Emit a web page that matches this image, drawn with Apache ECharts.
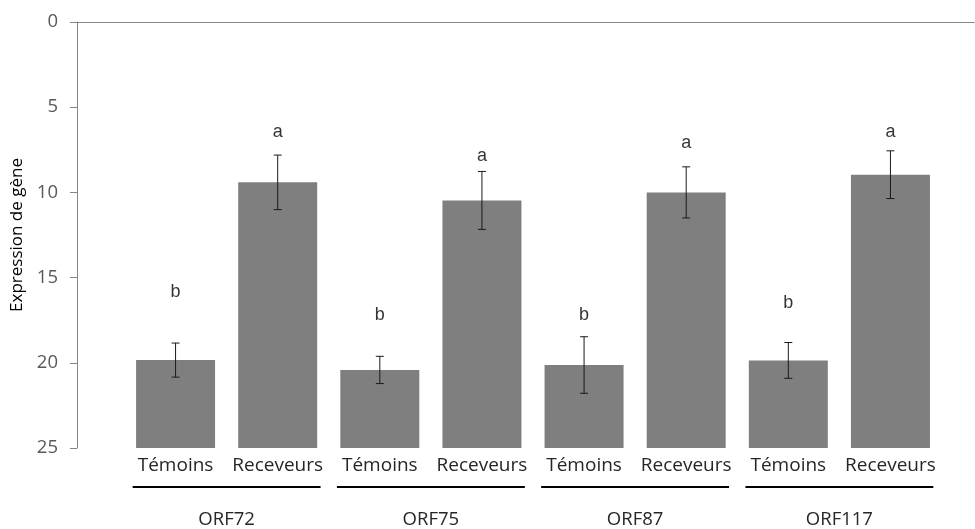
<!DOCTYPE html>
<html>
<head>
<meta charset="utf-8">
<script src="https://cdn.jsdelivr.net/npm/echarts@6/dist/echarts.min.js"></script>
<style>
  html, body { margin: 0; padding: 0; background: #fff; }
  #chart { width: 975px; height: 529px; }
</style>
</head>
<body>
<div id="chart"></div>
<script>
var categories = ['Témoins', 'Receveurs', 'Témoins', 'Receveurs', 'Témoins', 'Receveurs', 'Témoins', 'Receveurs'];
var groups = ['ORF72', 'ORF75', 'ORF87', 'ORF117'];
var values = [19.84, 9.41, 20.42, 10.47, 20.13, 10.0, 19.86, 8.96];
var errors = [1.0, 1.6, 0.8, 1.7, 1.66, 1.5, 1.05, 1.4];
var letters = ['b', 'a', 'b', 'a', 'b', 'a', 'b', 'a'];
var letterPos = [15.85, 6.44, 17.2, 7.86, 17.2, 7.12, 16.5, 6.44];
var yMax = 25;

var chart = echarts.init(document.getElementById('chart'), null, { renderer: 'canvas' });

var fill = values.map(function (v) { return yMax - v; });

var option = {
    animation: false,
    grid: [
        { left: 77, right: 1, top: 22, bottom: 81 },
        { left: 124.5, width: 817, top: 22, bottom: 81 }
    ],
    xAxis: [
        {
            gridIndex: 0, type: 'value', min: 0, max: 1, position: 'bottom',
            axisLine: { lineStyle: { color: '#868686', width: 1 } },
            axisTick: { show: false }, axisLabel: { show: false }, splitLine: { show: false }
        },
        {
            gridIndex: 0, type: 'value', min: 0, max: 1, position: 'top',
            axisLine: { lineStyle: { color: '#868686', width: 1 } },
            axisTick: { show: false }, axisLabel: { show: false }, splitLine: { show: false }
        },
        {
            gridIndex: 1, type: 'category', data: categories, position: 'bottom',
            axisLine: { show: false }, axisTick: { show: false },
            axisLabel: { margin: 8, fontSize: 19, color: '#262626', fontFamily: 'Open Sans', interval: 0 }
        },
        {
            gridIndex: 1, type: 'category', data: groups, position: 'bottom', offset: 58,
            axisLine: { show: false }, axisTick: { show: false },
            axisLabel: { margin: 4, fontSize: 18.5, color: '#262626', fontFamily: 'Open Sans', interval: 0 }
        }
    ],
    yAxis: [
        {
            gridIndex: 0, type: 'value', inverse: true, min: 0, max: yMax, interval: 5,
            name: 'Expression de gène', nameLocation: 'middle', nameGap: 49,
            nameTextStyle: { fontFamily: 'Open Sans', fontSize: 17, color: '#000' },
            axisLine: { show: true, lineStyle: { color: '#868686' } },
            axisTick: { show: true, inside: false, length: 7, lineStyle: { color: '#868686' } },
            axisLabel: { margin: 19, fontSize: 18.5, color: '#595959', fontFamily: 'Open Sans' },
            splitLine: { show: false }
        },
        {
            gridIndex: 1, type: 'value', inverse: true, min: 0, max: yMax, interval: 5, show: false
        }
    ],
    series: [
        {
            name: 'base', type: 'bar', stack: 'expr', xAxisIndex: 2, yAxisIndex: 1,
            barWidth: 79, data: values, itemStyle: { color: 'transparent' }, silent: true
        },
        {
            name: 'expression', type: 'bar', stack: 'expr', xAxisIndex: 2, yAxisIndex: 1,
            barWidth: 79, data: fill, itemStyle: { color: '#7f7f7f' }
        },
        {
            name: 'erreur', type: 'custom', xAxisIndex: 2, yAxisIndex: 1,
            data: values.map(function (v, i) { return [i, v, errors[i]]; }),
            renderItem: function (params, api) {
                var i = api.value(0), v = api.value(1), e = api.value(2);
                var hi = api.coord([i, v - e]);
                var lo = api.coord([i, v + e]);
                var x = hi[0], cap = 4;
                var style = { stroke: '#1a1a1a', lineWidth: 1 };
                return {
                    type: 'group',
                    children: [
                        { type: 'line', shape: { x1: x, y1: hi[1], x2: x, y2: lo[1] }, style: style },
                        { type: 'line', shape: { x1: x - cap, y1: hi[1], x2: x + cap, y2: hi[1] }, style: style },
                        { type: 'line', shape: { x1: x - cap, y1: lo[1], x2: x + cap, y2: lo[1] }, style: style }
                    ]
                };
            },
            z: 5
        },
        {
            name: 'lettres', type: 'scatter', xAxisIndex: 2, yAxisIndex: 1,
            symbolSize: 0,
            data: letterPos.map(function (p, i) { return [i, p]; }),
            label: {
                show: true, position: 'inside', fontSize: 18, color: '#000',
                fontFamily: 'Liberation Sans',
                formatter: function (d) { return letters[d.dataIndex]; }
            }
        },
        {
            name: 'groupes', type: 'custom', xAxisIndex: 3, yAxisIndex: 1, clip: false,
            data: groups.map(function (g, i) { return [i, yMax]; }),
            renderItem: function (params, api) {
                var p = api.coord([api.value(0), api.value(1)]);
                var band = api.size([1, 0])[0];
                var y = p[1] + 39;
                return {
                    type: 'line',
                    shape: { x1: p[0] - band * 0.46, y1: y, x2: p[0] + band * 0.46, y2: y },
                    style: { stroke: '#000', lineWidth: 2 }
                };
            }
        }
    ]
};

if (option && typeof option === 'object') {
    chart.setOption(option);
}

window.addEventListener('resize', function () {
    chart.resize();
});
</script>
</body>
</html>
